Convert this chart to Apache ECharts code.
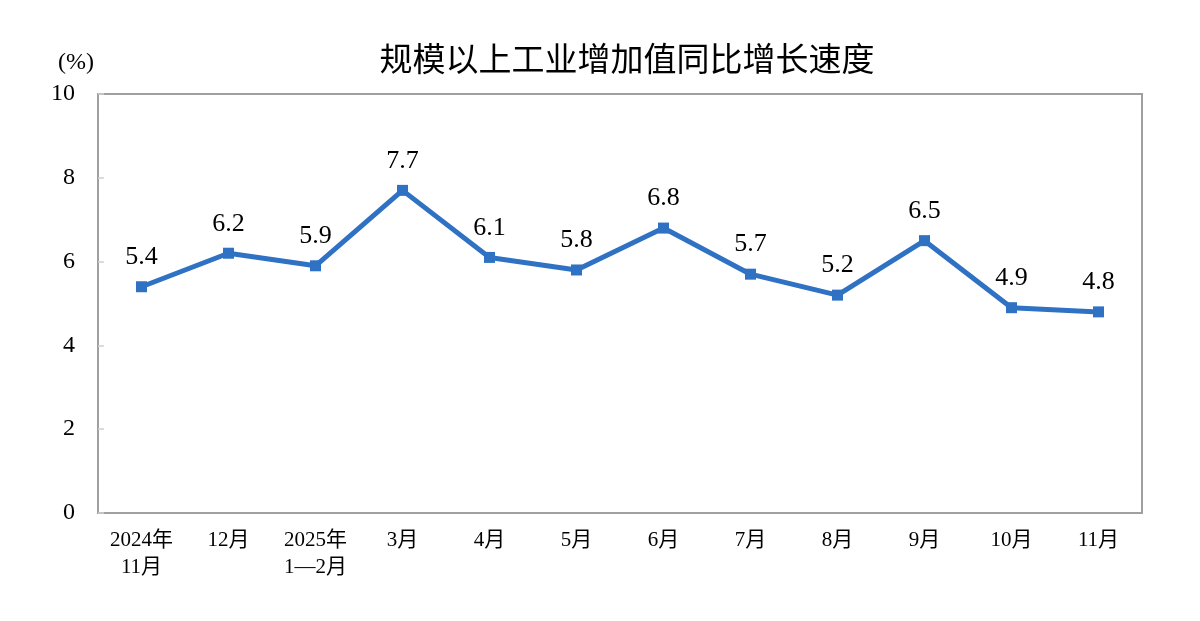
<!DOCTYPE html>
<html>
<head>
<meta charset="utf-8">
<script src="https://cdn.jsdelivr.net/npm/echarts@6/dist/echarts.min.js"></script>
<style>
  html, body { margin: 0; padding: 0; background: #fff; }
  #main { width: 1200px; height: 621px; }
</style>
</head>
<body>
<div id="main"></div>
<script>
// 数据
var titleText = "规模以上工业增加值同比增长速度";
var unitText = "(%)";
var months = ["2024年\n11月", "12月", "2025年\n1—2月", "3月", "4月", "5月",
    "6月", "7月", "8月", "9月", "10月", "11月"];
var growth = [5.4, 6.2, 5.9, 7.7, 6.1, 5.8, 6.8, 5.7, 5.2, 6.5, 4.9, 4.8];
var yMin = 0, yMax = 10, yStep = 2;

var serif = "'Liberation Serif', 'Times New Roman', 'Noto Sans CJK SC', serif";
var axisGray = "#a0a0a0";

var chart = echarts.init(document.getElementById("main"));
chart.setOption({
    animation: false,
    backgroundColor: "#fff",
    title: {
        text: titleText,
        left: 622,
        top: 37,
        textAlign: "center",
        textStyle: {
            fontFamily: "'Noto Sans CJK SC', sans-serif",
            fontSize: 33,
            fontWeight: "normal",
            color: "#000"
        }
    },
    graphic: [{
        type: "text",
        left: 58,
        top: 51,
        style: {
            text: unitText,
            font: "24px " + serif,
            fill: "#000"
        }
    }],
    grid: {
        left: 98,
        right: 58,
        top: 94,
        bottom: 108,
        show: true,
        borderColor: axisGray,
        borderWidth: 2,
        containLabel: false
    },
    xAxis: {
        type: "category",
        data: months,
        boundaryGap: true,
        axisLine: { lineStyle: { color: axisGray, width: 2 } },
        axisTick: { inside: true, length: 6, lineStyle: { color: "#d0d0d0", width: 1.5 } },
        axisLabel: {
            color: "#000",
            fontFamily: serif,
            fontSize: 21,
            lineHeight: 27,
            margin: 14,
            interval: 0
        }
    },
    yAxis: {
        type: "value",
        min: yMin,
        max: yMax,
        interval: yStep,
        splitLine: { show: false },
        axisLine: { show: true, lineStyle: { color: axisGray, width: 2 } },
        axisTick: { show: true, inside: true, length: 6, lineStyle: { color: "#d0d0d0", width: 1.5 } },
        axisLabel: {
            color: "#000",
            fontFamily: serif,
            fontSize: 24,
            margin: 23
        }
    },
    series: [{
        type: "line",
        data: growth,
        symbol: "rect",
        symbolSize: 11,
        lineStyle: { color: "#2f72c4", width: 5 },
        itemStyle: { color: "#2f72c4" },
        label: {
            show: true,
            position: "top",
            distance: 11,
            color: "#000",
            fontFamily: serif,
            fontSize: 26,
            formatter: function (p) { return p.value.toFixed(1); }
        }
    }]
});
</script>
</body>
</html>
